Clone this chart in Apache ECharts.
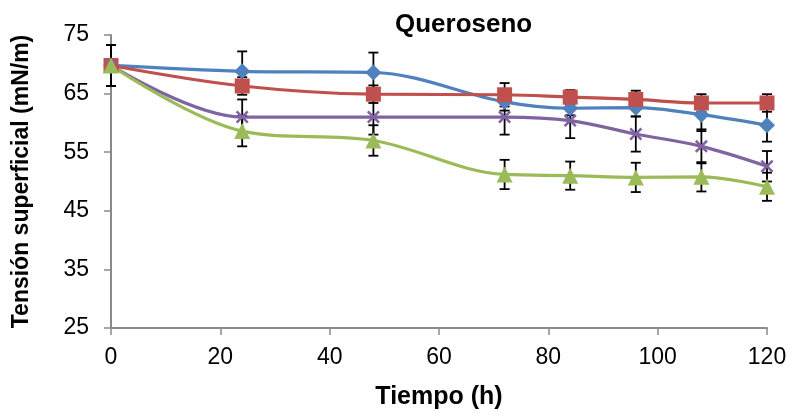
<!DOCTYPE html>
<html>
<head>
<meta charset="utf-8">
<script src="https://cdn.jsdelivr.net/npm/echarts@6/dist/echarts.min.js"></script>
<style>
  html, body { margin: 0; padding: 0; background: #fff; }
  #chart { width: 793px; height: 417px; }
</style>
</head>
<body>
<div id="chart"></div>
<script>
// Sampling times (h)
const hours = [0, 24, 48, 72, 84, 96, 108, 120];

// Surface tension (mN/m) per series
const serieAzul    = [69.8, 68.8, 68.6, 63.6, 62.5, 62.6, 61.4, 59.6];
const serieRoja    = [69.8, 66.3, 64.9, 64.8, 64.4, 64.0, 63.4, 63.4];
const serieMorada  = [69.8, 61.0, 61.0, 61.0, 60.4, 58.1, 56.0, 52.6];
const serieVerde   = [69.8, 58.6, 57.0, 51.2, 51.0, 50.7, 50.8, 49.1];

// Standard deviations (± mN/m)
const errAzul   = [3.5, 3.4, 3.4, 1.5, 1.2, 1.5, 2.8, 2.8];
const errRoja   = [3.5, 1.5, 1.5, 2.0, 1.2, 1.5, 1.5, 1.5];
const errMorada = [3.5, 3.0, 3.0, 3.0, 3.0, 3.0, 2.9, 2.6];
const errVerde  = [3.5, 2.6, 2.6, 2.5, 2.4, 2.5, 2.5, 2.4];

const yTicks = [25, 35, 45, 55, 65, 75];

const FONT = 'Liberation Sans, Arial, sans-serif';
const xMark = 'path://M0,1.4 L1.4,0 L5,3.6 L8.6,0 L10,1.4 L6.4,5 L10,8.6 L8.6,10 L5,6.4 L1.4,10 L0,8.6 L3.6,5 Z';

function pairs(vals) { return hours.map((h, i) => [h, vals[i]]); }

function errSeries(vals, errs) {
  return {
    type: 'custom',
    z: 1,
    silent: true,
    data: hours.map((h, i) => [h, vals[i] - errs[i], vals[i] + errs[i]]),
    renderItem: function (params, api) {
      const lo = api.coord([api.value(0), api.value(1)]);
      const hi = api.coord([api.value(0), api.value(2)]);
      const w = 5;
      const st = { stroke: '#000', lineWidth: 1.8 };
      return {
        type: 'group',
        children: [
          { type: 'line', shape: { x1: lo[0], y1: lo[1], x2: hi[0], y2: hi[1] }, style: st },
          { type: 'line', shape: { x1: lo[0] - w, y1: lo[1], x2: lo[0] + w, y2: lo[1] }, style: st },
          { type: 'line', shape: { x1: hi[0] - w, y1: hi[1], x2: hi[0] + w, y2: hi[1] }, style: st }
        ]
      };
    }
  };
}

function lineSeries(vals, color, symbol, size) {
  return {
    type: 'line',
    z: 3,
    smooth: 0.35,
    data: pairs(vals),
    symbol: symbol,
    symbolSize: size,
    lineStyle: { color: color, width: 3.2 },
    itemStyle: { color: color, borderWidth: 0 },
    emphasis: { disabled: true }
  };
}

const chart = echarts.init(document.getElementById('chart'), null, { renderer: 'canvas' });
chart.setOption({
  animation: false,
  backgroundColor: '#fff',
  title: {
    text: 'Queroseno',
    left: 390, top: 7,
    textStyle: { fontFamily: FONT, fontSize: 26, fontWeight: 'bold', color: '#000' }
  },
  grid: { left: 111, right: 26, top: 35, bottom: 89, outerBoundsMode: 'none' },
  xAxis: {
    type: 'value', min: 0, max: 120, interval: 20,
    name: 'Tiempo (h)', nameLocation: 'middle', nameGap: 57,
    nameTextStyle: { fontFamily: FONT, fontSize: 25, fontWeight: 'bold', color: '#000' },
    axisLine: { lineStyle: { color: '#8a8a8a', width: 2 } },
    axisTick: { show: true, length: 7, lineStyle: { color: '#8a8a8a', width: 1.5 } },
    axisLabel: { fontFamily: FONT, fontSize: 23, color: '#000', margin: 18 },
    splitLine: { show: false }
  },
  yAxis: {
    type: 'value', min: yTicks[0], max: yTicks[yTicks.length - 1], interval: 10,
    name: 'Tensión superficial (mN/m)', nameLocation: 'middle', nameGap: 78,
    nameTextStyle: { fontFamily: FONT, fontSize: 23, fontWeight: 'bold', color: '#000' },
    axisLine: { show: true, lineStyle: { color: '#8a8a8a', width: 2 } },
    axisTick: { show: true, length: 7, lineStyle: { color: '#8a8a8a', width: 1.5 } },
    axisLabel: { fontFamily: FONT, fontSize: 23, color: '#000', margin: 22 },
    splitLine: { show: false }
  },
  series: [
    errSeries(serieAzul, errAzul),
    errSeries(serieRoja, errRoja),
    errSeries(serieMorada, errMorada),
    errSeries(serieVerde, errVerde),
    lineSeries(serieAzul, '#4F81BD', 'diamond', 16),
    lineSeries(serieRoja, '#C0504D', 'rect', 15),
    lineSeries(serieMorada, '#8064A2', xMark, 13),
    lineSeries(serieVerde, '#9BBB59', 'triangle', 16)
  ]
});
</script>
</body>
</html>
